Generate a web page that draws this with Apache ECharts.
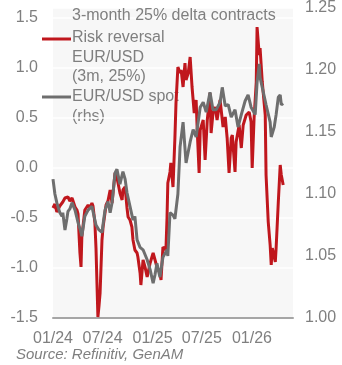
<!DOCTYPE html>
<html>
<head>
<meta charset="utf-8">
<script src="https://cdn.jsdelivr.net/npm/echarts@6/dist/echarts.min.js"></script>
<style>
  html, body { margin: 0; padding: 0; background: #ffffff; }
  #chart { width: 342px; height: 365px; }
</style>
</head>
<body>
<div id="chart"></div>
<script>
// 3-month 25-delta risk reversal, EUR/USD (left axis)
const riskReversal = [
  ['2024-01-01', -0.40], ['2024-01-08', -0.36], ['2024-01-15', -0.44], ['2024-01-26', -0.38], ['2024-02-06', -0.34],
  ['2024-02-14', -0.30], ['2024-02-25', -0.29], ['2024-03-03', -0.33], ['2024-03-11', -0.30],
  ['2024-03-22', -0.39], ['2024-03-29', -0.42], ['2024-04-02', -0.46], ['2024-04-09', -0.85],
  ['2024-04-13', -0.99], ['2024-04-16', -0.69], ['2024-04-27', -0.42], ['2024-05-09', -0.37],
  ['2024-05-16', -0.40], ['2024-05-23', -0.35], ['2024-05-27', -0.38], ['2024-06-03', -0.55],
  ['2024-06-07', -0.80], ['2024-06-14', -1.49], ['2024-06-18', -1.38], ['2024-06-22', -1.25],
  ['2024-06-29', -0.72], ['2024-07-03', -0.59], ['2024-07-10', -0.45], ['2024-07-14', -0.37],
  ['2024-07-21', -0.33], ['2024-07-29', -0.22], ['2024-08-01', -0.20], ['2024-08-05', -0.35],
  ['2024-08-16', -0.05], ['2024-08-23', -0.10], ['2024-08-27', -0.15], ['2024-09-03', -0.25],
  ['2024-09-11', -0.32], ['2024-09-14', -0.22], ['2024-09-22', -0.19], ['2024-09-29', -0.40],
  ['2024-10-03', -0.49], ['2024-10-10', -0.52], ['2024-10-17', -0.59], ['2024-10-21', -0.72],
  ['2024-10-28', -0.82], ['2024-11-05', -0.85], ['2024-11-08', -0.89], ['2024-11-16', -1.05],
  ['2024-11-19', -1.17], ['2024-11-27', -0.92], ['2024-12-05', -1.00], ['2024-12-12', -1.09], ['2024-12-23', -0.95],
  ['2025-01-03', -0.85], ['2025-01-17', -0.99], ['2025-01-28', -1.05], ['2025-02-01', -1.12],
  ['2025-02-08', -0.79], ['2025-02-19', -0.82], ['2025-02-23', -0.50], ['2025-02-26', -0.15],
  ['2025-03-06', -0.04], ['2025-03-09', 0.05], ['2025-03-17', -0.19], ['2025-03-24', 0.30],
  ['2025-03-28', 0.65], ['2025-04-04', 1.01], ['2025-04-12', 0.95], ['2025-04-16', 0.98],
  ['2025-04-23', 0.81], ['2025-04-30', 1.05], ['2025-05-04', 0.88], ['2025-05-12', 0.95],
  ['2025-05-19', 1.11], ['2025-05-26', 0.81], ['2025-06-03', 0.55], ['2025-06-10', 0.68],
  ['2025-06-14', 0.38], ['2025-06-21', -0.05], ['2025-06-25', 0.38], ['2025-07-06', 0.48],
  ['2025-07-13', 0.08], ['2025-07-21', 0.48], ['2025-07-31', 0.75], ['2025-08-04', 0.35],
  ['2025-08-11', 0.55], ['2025-08-19', 0.61], ['2025-08-26', 0.48], ['2025-09-06', 0.68],
  ['2025-09-17', 0.41], ['2025-09-25', 0.51], ['2025-10-02', 0.30], ['2025-10-09', -0.05],
  ['2025-10-17', 0.30], ['2025-10-21', 0.33], ['2025-10-31', -0.04], ['2025-11-04', 0.26],
  ['2025-11-15', 0.43], ['2025-11-23', 0.20], ['2025-11-30', 0.43], ['2025-12-11', 0.53],
  ['2025-12-22', 0.56], ['2025-12-29', 0.46], ['2026-01-02', 0.00], ['2026-01-09', 0.50],
  ['2026-01-17', 0.86], ['2026-01-20', 1.41], ['2026-01-28', 1.13], ['2026-01-31', 1.20],
  ['2026-02-08', 0.86], ['2026-02-19', 0.53], ['2026-02-22', -0.07], ['2026-03-02', -0.54],
  ['2026-03-09', -0.77], ['2026-03-13', -0.97], ['2026-03-17', -0.80], ['2026-03-28', -0.94],
  ['2026-03-31', -0.80], ['2026-04-08', -0.34], ['2026-04-15', 0.03], ['2026-04-19', -0.07],
  ['2026-04-26', -0.17]
];

// EUR/USD spot rate (right axis)
const eurUsdSpot = [
  ['2024-01-01', 1.112], ['2024-01-08', 1.100], ['2024-01-15', 1.093], ['2024-01-26', 1.085],
  ['2024-02-03', 1.082], ['2024-02-06', 1.085], ['2024-02-14', 1.071], ['2024-02-21', 1.080],
  ['2024-02-25', 1.086], ['2024-03-03', 1.088], ['2024-03-11', 1.093], ['2024-03-22', 1.087],
  ['2024-04-02', 1.077], ['2024-04-09', 1.072], ['2024-04-16', 1.066], ['2024-04-27', 1.082],
  ['2024-05-09', 1.087], ['2024-05-23', 1.090], ['2024-06-03', 1.079], ['2024-06-07', 1.075],
  ['2024-06-18', 1.071], ['2024-06-29', 1.069], ['2024-07-10', 1.087], ['2024-07-21', 1.094],
  ['2024-07-29', 1.085], ['2024-08-05', 1.093], ['2024-08-16', 1.117], ['2024-08-23', 1.120],
  ['2024-09-03', 1.108], ['2024-09-14', 1.118], ['2024-09-22', 1.112], ['2024-09-29', 1.101],
  ['2024-10-10', 1.090], ['2024-10-21', 1.079], ['2024-10-28', 1.082], ['2024-11-05', 1.063],
  ['2024-11-16', 1.057], ['2024-11-27', 1.055], ['2024-12-12', 1.047], ['2024-12-23', 1.039],
  ['2025-01-03', 1.028], ['2025-01-10', 1.035], ['2025-01-17', 1.044], ['2025-01-28', 1.033],
  ['2025-02-08', 1.049], ['2025-02-23', 1.055], ['2025-02-26', 1.050], ['2025-03-06', 1.085],
  ['2025-03-17', 1.083], ['2025-03-24', 1.080], ['2025-04-04', 1.100], ['2025-04-12', 1.138],
  ['2025-04-23', 1.158], ['2025-05-04', 1.125], ['2025-05-19', 1.142], ['2025-05-30', 1.152],
  ['2025-06-10', 1.146], ['2025-06-25', 1.170], ['2025-07-06', 1.174], ['2025-07-17', 1.166],
  ['2025-07-31', 1.182], ['2025-08-11', 1.168], ['2025-08-23', 1.168], ['2025-09-06', 1.174],
  ['2025-09-14', 1.186], ['2025-09-25', 1.171], ['2025-10-06', 1.172], ['2025-10-17', 1.162],
  ['2025-10-31', 1.168], ['2025-11-11', 1.154], ['2025-11-23', 1.164], ['2025-12-07', 1.175],
  ['2025-12-18', 1.180], ['2025-12-29', 1.170], ['2026-01-13', 1.164], ['2026-01-20', 1.190],
  ['2026-01-28', 1.205], ['2026-01-31', 1.194], ['2026-02-11', 1.183], ['2026-02-22', 1.172],
  ['2026-03-09', 1.158], ['2026-03-13', 1.146], ['2026-03-24', 1.154], ['2026-03-31', 1.164],
  ['2026-04-08', 1.178], ['2026-04-15', 1.180], ['2026-04-19', 1.172], ['2026-04-26', 1.173]
];

// Half-yearly date ticks and their labels
const tickDates = ['2024-01-01', '2024-07-01', '2025-01-01', '2025-07-01', '2026-01-01'];
const tickLabels = ['01/24', '07/24', '01/25', '07/25', '01/26'];
const axisStart = '2024-01-01';
const axisEnd = '2026-06-01';

const textGray = '#7f7f7f';
const font = 'Liberation Sans, Arial, sans-serif';
const toTime = d => Date.parse(d + 'T00:00:00Z');
const tickTimes = tickDates.map(toTime);

const chart = echarts.init(document.getElementById('chart'), null, { renderer: 'canvas' });

chart.setOption({
  animation: false,
  backgroundColor: '#ffffff',
  textStyle: { fontFamily: font },
  title: {
    text: '3-month 25% delta contracts',
    left: 67,
    top: 3,
    textStyle: { color: textGray, fontSize: 16, fontWeight: 'normal', fontFamily: font }
  },
  grid: {
    left: 53, right: 49, top: 8, bottom: 47,
    show: true, backgroundColor: '#f7f7f7', borderWidth: 0
  },
  xAxis: {
    type: 'value',
    min: toTime(axisStart),
    max: toTime(axisEnd),
    axisLine: { show: true, onZero: false, lineStyle: { color: '#a6a6a6', width: 2 } },
    axisTick: { show: false },
    splitLine: { show: false },
    axisLabel: {
      customValues: tickTimes,
      formatter: v => {
        const i = tickTimes.indexOf(v);
        return i >= 0 ? tickLabels[i] : '';
      },
      color: textGray, fontSize: 16, fontFamily: font, margin: 13,
      showMinLabel: true, showMaxLabel: true
    }
  },
  yAxis: [
    {
      type: 'value',
      min: -1.5, max: 1.6, interval: 0.5,
      axisLine: { show: false },
      axisTick: { show: false },
      splitLine: { show: true, lineStyle: { color: '#ffffff', width: 1.5 } },
      axisLabel: {
        showMaxLabel: false,
        formatter: v => v.toFixed(1),
        color: textGray, fontSize: 16, fontFamily: font, margin: 15
      }
    },
    {
      type: 'value',
      min: 1.0, max: 1.25, interval: 0.05,
      position: 'right',
      axisLine: { show: false },
      axisTick: { show: false },
      splitLine: { show: false },
      axisLabel: {
        formatter: v => v.toFixed(2),
        color: textGray, fontSize: 16, fontFamily: font, margin: 12
      }
    }
  ],
  series: [
    {
      name: 'Risk reversal EUR/USD (3m, 25%)',
      type: 'line',
      yAxisIndex: 0,
      data: riskReversal.map(p => [toTime(p[0]), p[1]]),
      showSymbol: false,
      lineStyle: { color: '#c0171d', width: 3 },
      itemStyle: { color: '#c0171d' }
    },
    {
      name: 'EUR/USD spot (rhs)',
      type: 'line',
      yAxisIndex: 1,
      data: eurUsdSpot.map(p => [toTime(p[0]), p[1]]),
      showSymbol: false,
      lineStyle: { color: '#6e6e6e', width: 3 },
      itemStyle: { color: '#6e6e6e' }
    }
  ],
  graphic: [
    // legend: line keys with multi-line labels
    { type: 'line', shape: { x1: 42, y1: 39, x2: 71, y2: 39 }, style: { stroke: '#c0171d', lineWidth: 3 } },
    { type: 'text', left: 72, top: 28,
      style: { text: 'Risk reversal\nEUR/USD\n(3m, 25%)', fill: textGray, font: '16px ' + font, lineHeight: 19.5 } },
    { type: 'line', shape: { x1: 42, y1: 97, x2: 71, y2: 97 }, style: { stroke: '#6e6e6e', lineWidth: 3 } },
    { type: 'text', left: 72, top: 87,
      style: { text: 'EUR/USD spot\n(rhs)', fill: textGray, font: '16px ' + font, lineHeight: 19.5 } },
    // source note
    { type: 'text', left: 16, top: 347,
      style: { text: 'Source: Refinitiv, GenAM', fill: textGray, font: 'italic 15px ' + font } }
  ]
});
</script>
</body>
</html>
